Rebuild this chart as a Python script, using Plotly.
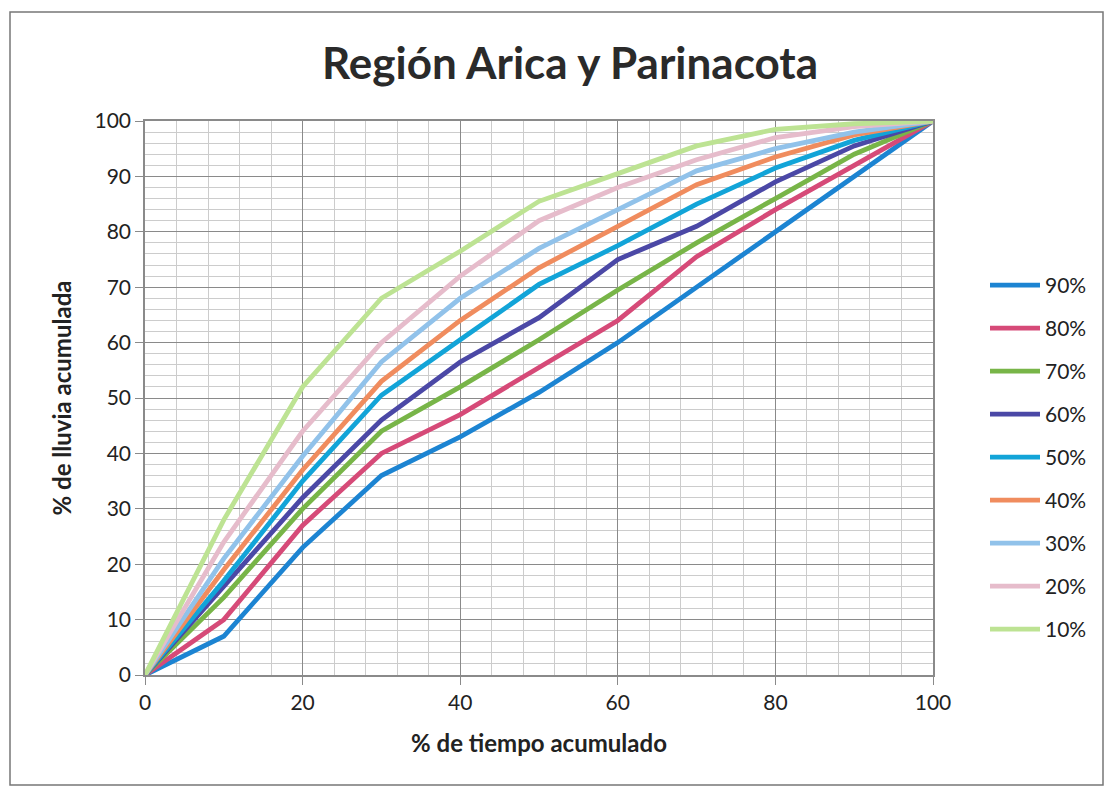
import plotly.graph_objects as go

x_vals = [0, 10, 20, 30, 40, 50, 60, 70, 80, 90, 100]

s90 = [0, 7, 23, 36, 43, 51, 60, 70, 80, 90, 100]
s80 = [0, 10, 27, 40, 47, 55.5, 64, 75.5, 84, 92, 100]
s70 = [0, 14, 30, 44, 52, 60.5, 69.5, 78, 86, 94, 100]
s60 = [0, 16, 32, 46, 56.5, 64.5, 75, 81, 89, 95.5, 100]
s50 = [0, 17, 35, 50.5, 60.5, 70.5, 77.5, 85, 91.5, 96.5, 100]
s40 = [0, 19, 37, 53, 64, 73.5, 81, 88.5, 93.5, 97.5, 100]
s30 = [0, 21, 39.5, 56.5, 68, 77, 84, 91, 95, 98, 100]
s20 = [0, 24, 44, 60, 72, 82, 88, 93, 97, 99, 100]
s10 = [0, 28, 52, 68, 76.5, 85.5, 90.5, 95.5, 98.5, 99.5, 100]

names = ["90%", "80%", "70%", "60%", "50%", "40%", "30%", "20%", "10%"]
series = [s90, s80, s70, s60, s50, s40, s30, s20, s10]
colors = ["#1c84d2", "#d64a78", "#78b548", "#4b48a6", "#12a4d8",
          "#f08c5e", "#91c2ea", "#e6bccb", "#bde393"]

FONT = "Lato"

fig = go.Figure()
for n, s, c in zip(names, series, colors):
    fig.add_trace(go.Scatter(x=x_vals, y=s, name=n, mode="lines",
                             legendgroup=n,
                             line=dict(color=c, width=4.8)))

W, H = 1107, 788
L, R, T, B = 145, 933, 121, 675

def px_x(p):
    return (p - L) / (R - L)

def px_y(p):
    return (B - p) / (B - T)

fig.add_shape(type="rect", xref="paper", yref="paper",
              x0=px_x(10), x1=px_x(1103), y0=px_y(785), y1=px_y(12),
              line=dict(color="#777777", width=1.5), layer="below")

fig.update_layout(
    width=W, height=H,
    margin=dict(l=L, r=W - R, t=T, b=H - B),
    paper_bgcolor="white", plot_bgcolor="white",
    font=dict(family=FONT, color="#222222"),
    title=dict(text="<b>Región Arica y Parinacota</b>",
               font=dict(family=FONT, size=44, color="#2a2a2a"),
               x=570 / W, xanchor="center",
               y=1 - 64 / H, yanchor="middle"),
    legend=dict(x=px_x(985), y=px_y(265), xanchor="left", yanchor="top",
                font=dict(family=FONT, size=21, color="#222222"),
                tracegroupgap=12.7, itemwidth=50, bgcolor="rgba(0,0,0,0)"),
    showlegend=True,
)

fig.update_xaxes(
    range=[0, 100], dtick=20, tick0=0,
    showgrid=True, gridcolor="#8a8a8a", gridwidth=1.2,
    minor=dict(dtick=4, tick0=0, showgrid=True, gridcolor="#cccccc", gridwidth=1),
    showline=True, linecolor="#8a8a8a", linewidth=1.5, mirror=True,
    ticks="outside", ticklen=8, tickcolor="#8a8a8a",
    tickfont=dict(family=FONT, size=21, color="#222222"),
    zeroline=False,
    title=dict(text="<b>% de tiempo acumulado</b>",
               font=dict(family=FONT, size=24, color="#222222"), standoff=22),
)
fig.update_yaxes(
    range=[0, 100], dtick=10, tick0=0,
    showgrid=True, gridcolor="#8a8a8a", gridwidth=1.2,
    minor=dict(dtick=2, tick0=0, showgrid=True, gridcolor="#cccccc", gridwidth=1),
    showline=True, linecolor="#8a8a8a", linewidth=1.5, mirror=True,
    ticks="outside", ticklen=8, tickcolor="#8a8a8a",
    tickfont=dict(family=FONT, size=21, color="#222222"),
    zeroline=False,
    title=dict(text="<b>% de lluvia acumulada</b>",
               font=dict(family=FONT, size=24, color="#222222"), standoff=16),
)

fig.write_html("out.html")
